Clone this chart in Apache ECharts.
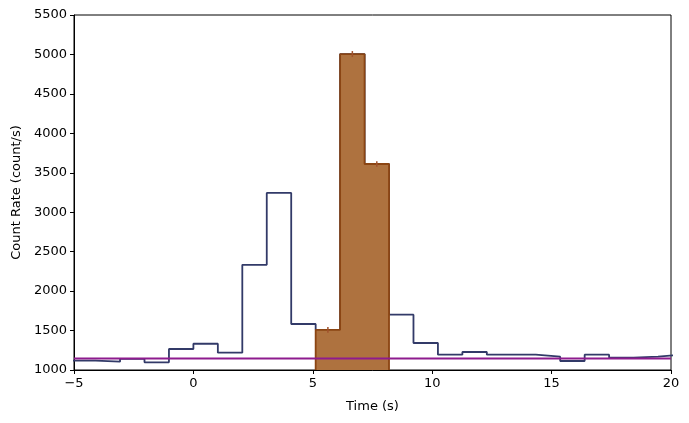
<!DOCTYPE html>
<html>
<head>
<meta charset="utf-8">
<script src="https://cdn.jsdelivr.net/npm/echarts@6/dist/echarts.min.js"></script>
<style>html,body{margin:0;padding:0;background:#fff}#c{width:689px;height:423px}</style>
</head>
<body>
<div id="c"></div>
<script>
// Light curve bins (start times, s) and count rates (count/s)
const binStarts = [-5.12, -4.096, -3.072, -2.048, -1.024, 0, 1.024, 2.048, 3.072, 4.096, 5.12, 6.144, 7.168, 8.192, 9.216, 10.24, 11.264, 12.288, 13.312, 14.336, 15.36, 16.384, 17.408, 18.432, 19.456];
const binEnd = 20.48;
const rates = [1118, 1105, 1142, 1097, 1266, 1333, 1220, 2333, 3244, 1583, 1509, 5005, 3611, 1701, 1342, 1194, 1228, 1194, 1194, 1169, 1114, 1194, 1156, 1169, 1194];

// Selected (source) interval
const selStarts = [5.12, 6.144, 7.168];
const selEnd = 8.192;
const selRates = [1509, 5005, 3611];
const selErrors = [36, 38, 34];

// Background level
const background = 1145;

const xTicks = { min: -5, max: 20, interval: 5 };
const yTicks = { min: 1000, max: 5500, interval: 500 };

// Build explicit step outlines (corner points) from bins
function stepPoints(starts, end, vals, base) {
  const pts = [];
  if (base !== undefined) pts.push([starts[0], base]);
  starts.forEach((s, i) => {
    const e = i + 1 < starts.length ? starts[i + 1] : end;
    pts.push([s, vals[i]]);
    pts.push([e, vals[i]]);
  });
  if (base !== undefined) pts.push([end, base]);
  return pts;
}
const lcData = stepPoints(binStarts, binEnd, rates);
const selData = stepPoints(selStarts, selEnd, selRates, yTicks.min);

const errData = selStarts.map((s, i) => {
  const next = i + 1 < selStarts.length ? selStarts[i + 1] : selEnd;
  return [(s + next) / 2, selRates[i], selErrors[i]];
});

const font = 'DejaVu Sans';
const chart = echarts.init(document.getElementById('c'), null, { renderer: 'canvas' });
chart.setOption({
  animation: false,
  backgroundColor: '#fff',
  grid: { left: 74, right: 18, top: 15, bottom: 53, show: true, borderColor: '#000', borderWidth: 1, backgroundColor: 'transparent' },
  xAxis: {
    type: 'value', min: xTicks.min, max: xTicks.max, interval: xTicks.interval,
    name: 'Time (s)', nameLocation: 'middle', nameGap: 30,
    nameTextStyle: { fontFamily: font, fontSize: 13, color: '#000' },
    axisLine: { show: true, onZero: false, lineStyle: { color: '#000', width: 1 } },
    axisTick: { show: true, length: 4, lineStyle: { color: '#000' } },
    axisLabel: { fontFamily: font, fontSize: 13, color: '#000', margin: 7,
      formatter: v => (v < 0 ? '\u2212' + Math.abs(v) : String(v)) },
    splitLine: { show: false }
  },
  yAxis: {
    type: 'value', min: yTicks.min, max: yTicks.max, interval: yTicks.interval,
    name: 'Count Rate (count/s)', nameLocation: 'middle', nameGap: 51,
    nameTextStyle: { fontFamily: font, fontSize: 13, color: '#000' },
    axisLine: { show: true, onZero: false, lineStyle: { color: '#000', width: 1 } },
    axisTick: { show: true, length: 4, lineStyle: { color: '#000' } },
    axisLabel: { fontFamily: font, fontSize: 13, color: '#000', margin: 7, formatter: v => String(v) },
    splitLine: { show: false }
  },
  series: [
    {
      type: 'line', data: lcData, symbol: 'none', clip: true, z: 2,
      lineStyle: { color: '#323a68', width: 1.8 }
    },
    {
      type: 'line', data: selData, symbol: 'none', clip: true, z: 3,
      lineStyle: { color: '#8b4513', width: 1.8 },
      areaStyle: { color: '#ae723f', opacity: 1, origin: 'start' }
    },
    {
      type: 'custom', z: 4, clip: true, data: errData,
      renderItem: function (params, api) {
        const x = api.value(0), y = api.value(1), e = api.value(2);
        const p1 = api.coord([x, y - e]);
        const p2 = api.coord([x, y + e]);
        return { type: 'line', shape: { x1: p1[0], y1: p1[1], x2: p2[0], y2: p2[1] },
          style: { stroke: '#a0522d', lineWidth: 1.5 } };
      }
    },
    {
      type: 'line', data: [[xTicks.min, background], [xTicks.max, background]], symbol: 'none', z: 5,
      lineStyle: { color: '#8e1b8e', width: 2 }
    }
  ]
});
</script>
</body>
</html>
